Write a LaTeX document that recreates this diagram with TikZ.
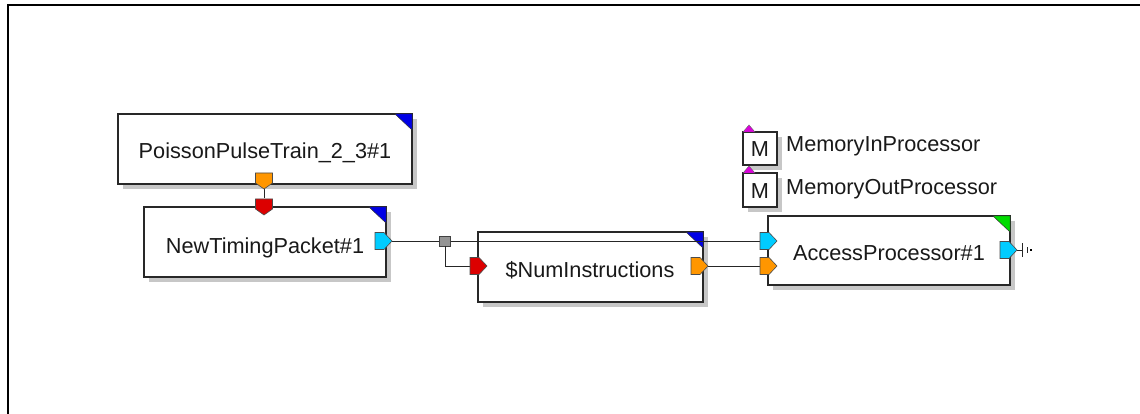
\documentclass[tikz,border=0pt]{standalone}
\usepackage{fontspec}
\setmainfont{Liberation Sans}
\usetikzlibrary{calc,shadows}
\definecolor{pblue}{RGB}{0,0,230}
\definecolor{pgreen}{RGB}{0,220,0}
\definecolor{porange}{RGB}{255,150,0}
\definecolor{pred}{RGB}{220,0,0}
\definecolor{pcyan}{RGB}{0,204,255}
\definecolor{pmag}{RGB}{220,0,220}
\definecolor{edge}{RGB}{40,40,40}
\tikzset{
  blockbox/.style={draw=edge, line width=1.1pt, fill=white, inner sep=0pt, outer sep=0pt,
    drop shadow={shadow xshift=5pt, shadow yshift=-5pt, fill=black!22, opacity=1}},
  lbl/.style={inner sep=0pt, font=\fontsize{21.7}{25}\selectfont, text=black!90},
  wire/.style={draw=black!85, line width=0.9pt},
  pics/portr/.style={code={\filldraw[draw=black!70, line width=0.6pt, fill=#1] (-17,-8.5) -- (-8,-8.5) -- (0,0) -- (-8,8.5) -- (-17,8.5) -- cycle;}},
  pics/portd/.style={code={\filldraw[draw=black!70, line width=0.6pt, fill=#1] (-8.5,-16) -- (8.5,-16) -- (8.5,-6) -- (0,0) -- (-8.5,-6) -- cycle;}},
  pics/cornertri/.style={code={\filldraw[draw=black!80, line width=0.5pt, fill=#1] (-17,0) -- (0,0) -- (0,16) -- cycle;}},
  pics/memtri/.style={code={\filldraw[draw=black!60, line width=0.4pt, fill=pmag] (-6,0) -- (6,0) -- (0,-7) -- cycle;}}
}
\begin{document}
\begin{tikzpicture}[x=1pt,y=-1pt]
\useasboundingbox (0,0) rectangle (1140,414);
% frame
\draw[line width=2pt, black] (7.5,414) -- (7.5,5) -- (1140,5);

% blocks
\node[blockbox, minimum width=294pt, minimum height=70pt] (P) at (265,149) {};
\node[blockbox, minimum width=242pt, minimum height=70pt] (N) at (265,242) {};
\node[blockbox, minimum width=225pt, minimum height=70pt] (S) at (590.5,267) {};
\node[blockbox, minimum width=242pt, minimum height=69pt] (A) at (889,250.5) {};
\node[blockbox, minimum width=34pt, minimum height=33pt] (M1) at (760,148.5) {};
\node[blockbox, minimum width=34pt, minimum height=34pt] (M2) at (760,190) {};

% corner triangles
\pic at (P.north east) {cornertri=pblue};
\pic at (N.north east) {cornertri=pblue};
\pic at (S.north east) {cornertri=pblue};
\pic at (A.north east) {cornertri=pgreen};
\pic at ($(M1.north west)+(6,0)$) {memtri};
\pic at ($(M2.north west)+(6,0)$) {memtri};

% labels
\node[lbl, anchor=base] (Pt) at (265,159) {PoissonPulseTrain\_2\_3\#1};
\node[lbl, anchor=base] (Nt) at (265,253) {NewTimingPacket\#1};
\node[lbl, anchor=base] (St) at (590,277) {\$NumInstructions};
\node[lbl, anchor=base] (At) at (889,260) {AccessProcessor\#1};
\node[lbl, anchor=base] (M1t) at (760,157) {M};
\node[lbl, anchor=base] (M2t) at (760,199) {M};
\node[lbl, anchor=base west] (M1l) at (786,152) {MemoryInProcessor};
\node[lbl, anchor=base west] (M2l) at (786,195) {MemoryOutProcessor};

% port coordinates
\coordinate (Pout) at (264,189);
\coordinate (Nin) at (264,198.5);
\coordinate (Nout) at (392,241);
\coordinate (Sin) at (470,266);
\coordinate (Sout) at (708,266);
\coordinate (Ain1) at (760,241);
\coordinate (Ain2) at (760,266);
\coordinate (Aout) at (1017,250);
\coordinate (G) at (1022,250);

% junction
\node[draw=black!75, line width=0.6pt, fill=black!42, minimum width=11pt, minimum height=10pt, inner sep=0pt] (J) at (445,241) {};

% wires
\draw[wire] (Pout) -- (Nin);
\draw[wire] (Nout) -- (J.west);
\draw[wire] (J.east) -- (Ain1);
\draw[wire] (J.south) |- (Sin);
\draw[wire] (Sout) -- (Ain2);
\draw[wire] (Aout) -- (G);
\draw[wire] ($(G)+(0,-7)$) -- ($(G)+(0,7)$);
\draw[wire, line width=0.7pt] ($(G)+(5,-3)$) -- ($(G)+(5,3)$);
\fill[black] ($(G)+(8,-1.2)$) rectangle ($(G)+(10.4,1.2)$);

% ports
\pic at (Pout) {portd=porange};
\pic at ($(Nin)+(0,16.5)$) {portd=pred};
\pic at (Nout) {portr=pcyan};
\pic at ($(Sin)+(17,0)$) {portr=pred};
\pic at (Sout) {portr=porange};
\pic at ($(Ain1)+(17,0)$) {portr=pcyan};
\pic at ($(Ain2)+(17,0)$) {portr=porange};
\pic at (Aout) {portr=pcyan};
\end{tikzpicture}
\end{document}
